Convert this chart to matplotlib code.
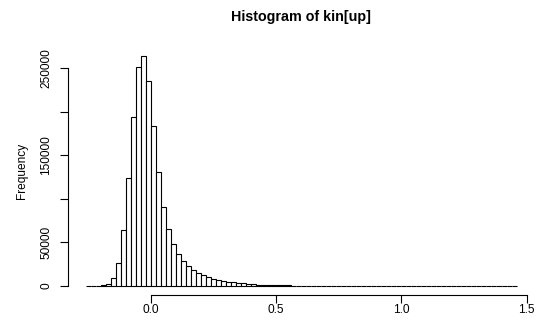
import numpy as np
import matplotlib
matplotlib.use("Agg")
import matplotlib.pyplot as plt

# histogram of kin[up], bins of width 0.02 starting at -0.26
bin_start = -0.26
bin_width = 0.02
counts = [
    30, 80, 200, 600, 2000, 8800, 26000, 64000, 124000, 194000,
    251000, 264000, 236000, 184000, 131000, 91000, 65000, 48000, 36800, 28700,
    23000, 18000, 14600, 12300, 10300, 8600, 7200, 6000, 5000, 4200,
    3500, 2900, 2400, 2000, 1700, 1400, 1200, 1000, 850, 700,
    600, 500, 420, 360, 300, 260,
    230, 200, 180, 160, 145, 130, 120, 110, 100, 95,
    90, 85, 80, 75, 70, 65, 60, 58, 55, 52,
    50, 48, 45, 42, 40, 38, 36, 34, 32, 30,
    28, 26, 25,
    0, 0, 0, 0, 0, 0, 0,
]
x_ticks = [0.0, 0.5, 1.0, 1.5]
x_tick_labels = ["0.0", "0.5", "1.0", "1.5"]
y_ticks = [0, 50000, 100000, 150000, 200000, 250000]
y_tick_labels = ["0", "50000", "", "150000", "", "250000"]
title = "Histogram of kin[up]"
ylabel = "Frequency"

plt.rcParams['font.family'] = ['Liberation Sans', 'DejaVu Sans']

left_edges = bin_start + bin_width * np.arange(len(counts))
last_edge = left_edges[-1] + bin_width

fig = plt.figure(figsize=(5.37, 3.24), dpi=100)
ax = fig.add_axes([0.1272, 0.0889, 0.994 - 0.1272, 0.855 - 0.0889])

ax.bar(left_edges, counts, width=bin_width, align='edge',
       facecolor='white', edgecolor='black', linewidth=0.8)

# R-style 4% padding around the data range
xr = last_edge - bin_start
ax.set_xlim(bin_start - 0.04 * xr, last_edge + 0.04 * xr)
ymax = max(counts)
ax.set_ylim(-0.04 * ymax, ymax * 1.04)

for side in ['top', 'right']:
    ax.spines[side].set_visible(False)
ax.spines['left'].set_bounds(y_ticks[0], y_ticks[-1])
ax.spines['bottom'].set_bounds(x_ticks[0], x_ticks[-1])
for side in ['left', 'bottom']:
    ax.spines[side].set_linewidth(0.8)

ax.set_xticks(x_ticks)
ax.set_xticklabels(x_tick_labels)
ax.set_yticks(y_ticks)
ax.set_yticklabels(y_tick_labels, rotation=90, va='center')
ax.tick_params(axis='both', direction='out', length=5.5, width=0.8,
               labelsize=8.6, pad=1)
ax.tick_params(axis='y', pad=6)

ax.set_title(title, fontsize=10.3, fontweight='bold', pad=19)
ax.set_ylabel(ylabel, fontsize=8.6, labelpad=9)

fig.savefig("out.png", dpi=100)
